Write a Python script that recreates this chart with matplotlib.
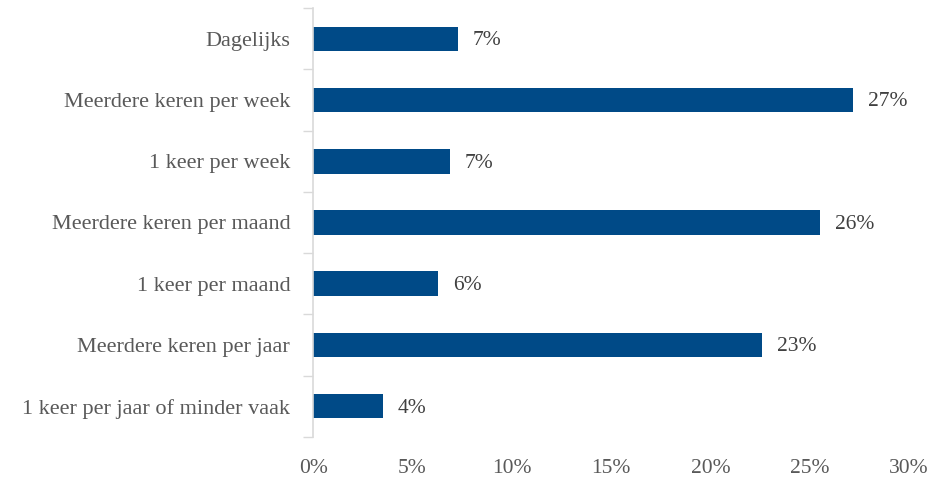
import matplotlib
matplotlib.use("Agg")
import matplotlib.pyplot as plt
import numpy as np
from matplotlib.ticker import FixedLocator, PercentFormatter

categories = [
    "Dagelijks",
    "Meerdere keren per week",
    "1 keer per week",
    "Meerdere keren per maand",
    "1 keer per maand",
    "Meerdere keren per jaar",
    "1 keer per jaar of minder vaak",
]
values = [7.3, 27.2, 6.9, 25.5, 6.3, 22.6, 3.5]
xticks = [0, 5, 10, 15, 20, 25, 30]

bar_color = "#004A87"
label_color = "#595959"
value_color = "#404040"
spine_color = "#D9D9D9"

plt.rcParams["font.family"] = ["Liberation Serif", "DejaVu Serif"]

fig = plt.figure(figsize=(9.43, 4.79), dpi=100)
ax = fig.add_axes([0.332, 0.088, 0.632, 0.895])

y = np.arange(len(categories))
ax.barh(y, values, height=0.4, color=bar_color)
ax.set_ylim(len(categories) - 0.5, -0.5)
ax.set_xlim(0, 30)

for yi, v in zip(y, values):
    ax.text(v + 0.75, yi + 0.03, f"{v:.0f}%", va="center", ha="left",
            fontsize=15.5, color=value_color)

ax.set_yticks(y)
ax.set_yticklabels(categories, fontsize=16, color=label_color)
ax.tick_params(axis="y", which="major", length=0, pad=16.5)
ax.yaxis.set_minor_locator(FixedLocator(np.arange(-0.5, len(categories), 1.0)))
ax.tick_params(axis="y", which="minor", length=7, color=spine_color, width=1)

ax.set_xticks(xticks)
ax.xaxis.set_major_formatter(PercentFormatter(decimals=0))
ax.tick_params(axis="x", length=0, labelsize=15.5, labelcolor=label_color, pad=16)

for s in ["top", "right", "bottom"]:
    ax.spines[s].set_visible(False)
ax.spines["left"].set_color(spine_color)
ax.spines["left"].set_linewidth(1.2)

fig.savefig("out.png", dpi=100)
